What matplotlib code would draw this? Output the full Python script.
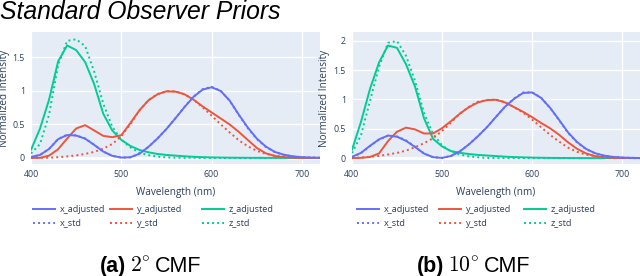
import matplotlib
matplotlib.use("Agg")
import matplotlib.pyplot as plt
from matplotlib.lines import Line2D

# ---------------- data ----------------
wavelength = list(range(400, 721, 10))

x_std_2 = [0.01431, 0.04351, 0.13438, 0.2839, 0.34828, 0.3362, 0.2908, 0.19536, 0.09564, 0.03201,
           0.0049, 0.0093, 0.06327, 0.1655, 0.2904, 0.43345, 0.5945, 0.7621, 0.9163, 1.0263,
           1.0622, 1.0026, 0.85445, 0.6424, 0.4479, 0.2835, 0.1649, 0.0874, 0.04677, 0.0227,
           0.011359, 0.00579, 0.002899]
y_std_2 = [0.000396, 0.00121, 0.004, 0.0116, 0.023, 0.038, 0.06, 0.09098, 0.13902, 0.20802,
           0.323, 0.503, 0.71, 0.862, 0.954, 0.99495, 0.995, 0.952, 0.87, 0.757,
           0.631, 0.503, 0.381, 0.265, 0.175, 0.107, 0.061, 0.032, 0.017, 0.00821,
           0.004102, 0.002091, 0.001047]
z_std_2 = [0.06785, 0.2074, 0.6456, 1.3856, 1.74706, 1.77211, 1.6692, 1.28764, 0.81295, 0.46518,
           0.272, 0.1582, 0.07825, 0.04216, 0.0203, 0.00875, 0.0039, 0.0021, 0.00165, 0.0011,
           0.0008, 0.00034, 0.00019, 0.00005, 0.00002, 0, 0, 0, 0, 0, 0, 0, 0]

x_adj_2 = [0.015, 0.045, 0.135, 0.28, 0.342, 0.335, 0.288, 0.195, 0.096, 0.032,
           0.006, 0.01, 0.063, 0.165, 0.29, 0.433, 0.594, 0.76, 0.913, 1.02,
           1.055, 1.0, 0.856, 0.648, 0.455, 0.29, 0.17, 0.09, 0.048, 0.024,
           0.012, 0.006, 0.003]
y_adj_2 = [0.0, 0.002, 0.035, 0.13, 0.29, 0.44, 0.49, 0.41, 0.33, 0.31,
           0.34, 0.52, 0.71, 0.86, 0.95, 0.995, 0.99, 0.95, 0.87, 0.77,
           0.68, 0.59, 0.50, 0.39, 0.27, 0.15, 0.07, 0.03, 0.012, 0.005,
           0.002, 0.001, 0.0005]
z_adj_2 = [0.12, 0.44, 0.87, 1.44, 1.68, 1.61, 1.43, 1.10, 0.66, 0.41,
           0.27, 0.18, 0.12, 0.085, 0.06, 0.045, 0.035, 0.025, 0.018, 0.012,
           0.008, 0.006, 0.004, 0.003, 0.002, 0.002, 0.001, 0.001, 0.001, 0.0,
           0.0, 0.0, 0.0]

x_std_10 = [0.019110, 0.084736, 0.204492, 0.314679, 0.383734, 0.370702, 0.302273, 0.195618, 0.080507, 0.016172,
            0.003816, 0.037465, 0.117749, 0.236491, 0.376772, 0.529826, 0.705224, 0.878655, 1.014160, 1.118520,
            1.123990, 1.030480, 0.856297, 0.647467, 0.431567, 0.268329, 0.152568, 0.081261, 0.040851, 0.019941,
            0.009577, 0.004553, 0.002175]
y_std_10 = [0.002004, 0.008756, 0.021391, 0.038676, 0.062077, 0.089456, 0.128201, 0.185190, 0.253589, 0.339133,
            0.460777, 0.606741, 0.761757, 0.875211, 0.961988, 0.991761, 0.997340, 0.955552, 0.868934, 0.777405,
            0.658341, 0.527963, 0.398057, 0.283493, 0.179828, 0.107633, 0.060281, 0.031800, 0.015905, 0.007749,
            0.003734, 0.001784, 0.000860]
z_std_10 = [0.086011, 0.389366, 0.972542, 1.553480, 1.967280, 1.994800, 1.745370, 1.317560, 0.772125, 0.415254,
            0.218502, 0.112044, 0.060709, 0.030451, 0.013676, 0.003988, 0, 0, 0, 0,
            0, 0, 0, 0, 0, 0, 0, 0, 0, 0, 0, 0, 0]

x_adj_10 = [0.022, 0.09, 0.21, 0.32, 0.385, 0.365, 0.295, 0.19, 0.078, 0.016,
            0.004, 0.037, 0.117, 0.235, 0.375, 0.528, 0.703, 0.876, 1.01, 1.11,
            1.12, 1.028, 0.86, 0.655, 0.44, 0.275, 0.158, 0.085, 0.043, 0.021,
            0.01, 0.005, 0.0025]
y_adj_10 = [0.0, 0.005, 0.02, 0.08, 0.29, 0.45, 0.52, 0.49, 0.42, 0.42,
            0.51, 0.63, 0.76, 0.87, 0.95, 0.99, 0.995, 0.95, 0.87, 0.79,
            0.70, 0.60, 0.51, 0.40, 0.27, 0.16, 0.08, 0.035, 0.015, 0.006,
            0.003, 0.001, 0.0005]
z_adj_10 = [0.14, 0.62, 1.18, 1.63, 1.92, 1.88, 1.60, 1.22, 0.68, 0.33,
            0.20, 0.12, 0.09, 0.07, 0.055, 0.045, 0.035, 0.025, 0.018, 0.013,
            0.009, 0.006, 0.004, 0.003, 0.002, 0.001, 0.001, 0.0, 0.0, 0.0,
            0.0, 0.0, 0.0]

series_labels = ["x_adjusted", "x_std", "y_adjusted", "y_std", "z_adjusted", "z_std"]
xticks = [400, 500, 600, 700]
yticks_2 = [0, 0.5, 1, 1.5]
yticks_10 = [0, 0.5, 1, 1.5, 2]
ytick_labels_2 = ["0", "0.5", "1", "1.5"]
ytick_labels_10 = ["0", "0.5", "1", "1.5", "2"]

# ---------------- style ----------------
W, H = 640, 276
BG = "#E5ECF6"
TXT = "#2a3f5f"
BLUE, RED, GREEN = "#636EFA", "#EF553B", "#00CC96"
FONT = "Open Sans"
LW = 1.4

plt.rcParams["mathtext.fontset"] = "cm"
fig = plt.figure(figsize=(W / 100, H / 100), dpi=100)


def fx(px):
    return px / W


def fy(py):
    return 1 - py / H


def make_axes(x0, x1, y0, y1):
    return fig.add_axes([fx(x0), fy(y1), (x1 - x0) / W, (y1 - y0) / H])


panels = [
    dict(x0=31, x1=320, ylim=(-0.09, 1.88), yt=yticks_2, ytl=ytick_labels_2,
         data=[x_adj_2, x_std_2, y_adj_2, y_std_2, z_adj_2, z_std_2],
         ylab_x=5, leg_x=[33, 110, 202]),
    dict(x0=352, x1=640, ylim=(-0.10, 2.15), yt=yticks_10, ytl=ytick_labels_10,
         data=[x_adj_10, x_std_10, y_adj_10, y_std_10, z_adj_10, z_std_10],
         ylab_x=325, leg_x=[357, 439, 524]),
]

colors = [BLUE, BLUE, RED, RED, GREEN, GREEN]
styles = ["-", ":", "-", ":", "-", ":"]

for p in panels:
    ax = make_axes(p["x0"], p["x1"], 32, 164)
    ax.set_facecolor(BG)
    for s in ax.spines.values():
        s.set_visible(False)
    ax.set_xlim(400, 720)
    ax.set_ylim(*p["ylim"])
    ax.set_xticks(xticks)
    ax.set_yticks(p["yt"])
    ax.set_yticklabels(p["ytl"])
    ax.grid(True, color="white", linewidth=1.0)
    ax.set_axisbelow(True)
    ax.axhline(0, color="white", linewidth=2.0, zorder=0.9)
    ax.tick_params(length=0, labelsize=6.3, labelcolor=TXT, pad=4.5)
    for lab in ax.get_xticklabels() + ax.get_yticklabels():
        lab.set_fontfamily(FONT)
    order = [4, 5, 2, 3, 0, 1]
    for i in order:
        ls = styles[i]
        ax.plot(wavelength, p["data"][i], color=colors[i], linewidth=LW,
                linestyle=ls, dashes=(1, 1.6) if ls == ":" else (None, None),
                solid_capstyle="round", solid_joinstyle="round")
    cx = (p["x0"] + p["x1"]) / 2
    fig.text(fx(cx), fy(192), "Wavelength (nm)", ha="center", va="center",
             fontsize=7.2, color=TXT, family=FONT)
    fig.text(fx(p["ylab_x"]), fy(98), "Normalized Intensity", ha="center", va="center",
             rotation=90, fontsize=7.2, color=TXT, family=FONT)
    # legend (3 columns x 2 rows)
    for k in range(6):
        col, row = k // 2, k % 2
        lx = p["leg_x"][col]
        ly = 209 + row * 14
        ls = styles[k]
        ln = Line2D([fx(lx), fx(lx + 22)], [fy(ly), fy(ly)], transform=fig.transFigure,
                    color=colors[k], linewidth=LW, linestyle=ls,
                    dashes=(1, 1.6) if ls == ":" else (None, None))
        fig.add_artist(ln)
        fig.text(fx(lx + 27), fy(ly), series_labels[k], ha="left", va="center",
                 fontsize=6.6, color=TXT, family=FONT)

# title
fig.text(fx(0), fy(19), "Standard Observer Priors", ha="left", va="baseline",
         fontsize=17.8, style="italic", family="Liberation Sans", color="black")

# captions
fig.canvas.draw()
renderer = fig.canvas.get_renderer()


def caption(start_px, parts):
    x = start_px
    for txt, kw in parts:
        t = fig.text(fx(x), fy(272), txt, ha="left", va="baseline", fontsize=15.5,
                     color="black", **kw)
        bb = t.get_window_extent(renderer)
        x += bb.width + 4


caption(100, [("(a)", dict(family="Liberation Sans", weight="bold")),
              (r"$2^{\circ}$", dict()),
              ("CMF", dict(family="Liberation Sans"))])
caption(417, [("(b)", dict(family="Liberation Sans", weight="bold")),
              (r"$10^{\circ}$", dict()),
              ("CMF", dict(family="Liberation Sans"))])

fig.savefig("out.png", dpi=100)
